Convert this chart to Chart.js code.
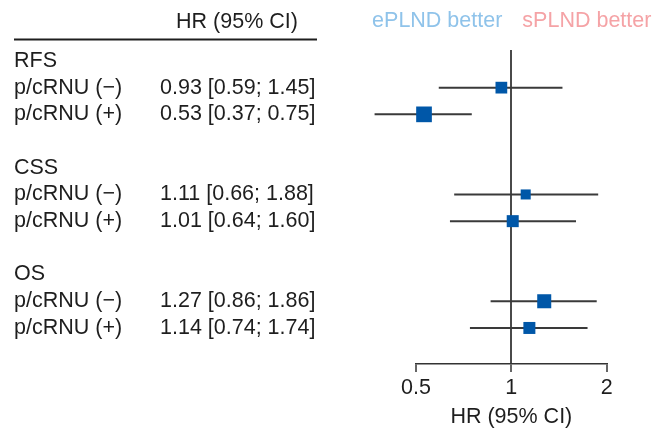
<!DOCTYPE html>
<html>
<head>
<meta charset="utf-8">
<script src="https://cdn.jsdelivr.net/npm/chart.js@4/dist/chart.umd.min.js"></script>
<style>
  body { margin: 0; background: #fff; }
  #wrap { width: 666px; height: 428px; position: relative; }
</style>
</head>
<body>
<div id="wrap"><canvas id="forest"></canvas></div>
<script>
// Forest plot data
const outcomes = ['RFS', 'CSS', 'OS'];
const subgroups = ['p/cRNU (\u2212)', 'p/cRNU (+)'];
const hr = [0.93, 0.53, 1.11, 1.01, 1.27, 1.14];
const lower = [0.59, 0.37, 0.66, 0.64, 0.86, 0.74];
const upper = [1.45, 0.75, 1.88, 1.60, 1.86, 1.74];
const weights = [8.6, 15.4, 6.3, 9.0, 12.3, 9.0];
const xTicks = [0.5, 1, 2];

const textColor = '#1e1e1e';
const fontSize = 21.5;
const fontFamily = "'Liberation Sans', Arial, Helvetica, sans-serif";
Chart.defaults.font.family = fontFamily;

// Build table rows: header, two subgroups, blank spacer between outcomes
const rowLabels = [];
const rowValues = [];
const studyRow = [];
outcomes.forEach((o, oi) => {
    if (oi > 0) { rowLabels.push(''); rowValues.push(''); }
    rowLabels.push(o); rowValues.push('');
    subgroups.forEach((s, si) => {
        const k = oi * subgroups.length + si;
        studyRow[k] = rowLabels.length;
        rowLabels.push(s);
        rowValues.push(`${hr[k].toFixed(2)} [${lower[k].toFixed(2)}; ${upper[k].toFixed(2)}]`);
    });
});

const rowTicks = axis => { axis.ticks = rowLabels.map((_, i) => ({ value: i })); };

const datasets = [{
    label: 'HR',
    data: hr.map((v, k) => ({ x: v, y: studyRow[k] })),
    pointStyle: 'rect',
    pointRadius: weights.map(w => 4 * Math.sqrt(w) / Math.SQRT2),
    pointHoverRadius: weights.map(w => 4 * Math.sqrt(w) / Math.SQRT2),
    pointBackgroundColor: '#0057A8',
    pointBorderWidth: 0,
    order: 0,
    clip: false
}];
hr.forEach((v, k) => {
    datasets.push({
        label: 'CI ' + k,
        data: [{ x: lower[k], y: studyRow[k] }, { x: upper[k], y: studyRow[k] }],
        showLine: true,
        borderColor: '#3a3a3a',
        borderWidth: 2,
        pointRadius: 0,
        order: 1,
        clip: false
    });
});

// Header texts above the table and plot
const headerPlugin = {
    id: 'header',
    afterDraw(chart) {
        const { ctx } = chart;
        const x1 = chart.scales.x.getPixelForValue(1);
        ctx.save();
        ctx.font = `${fontSize}px ${fontFamily}`;
        ctx.textBaseline = 'middle';
        ctx.fillStyle = textColor;
        ctx.textAlign = 'center';
        ctx.fillText('HR (95% CI)', 237, 22);
        ctx.strokeStyle = textColor;
        ctx.lineWidth = 2;
        ctx.beginPath();
        ctx.moveTo(14, 39.5);
        ctx.lineTo(317, 39.5);
        ctx.stroke();
        ctx.textAlign = 'right';
        ctx.fillStyle = '#8FC3EA';
        ctx.fillText('ePLND better', x1 - 9, 21);
        ctx.textAlign = 'left';
        ctx.fillStyle = '#F5A3A6';
        ctx.fillText('sPLND better', x1 + 11, 21);
        ctx.restore();
    }
};

const chart = new Chart(document.getElementById('forest'), {
    type: 'scatter',
    data: { datasets },
    options: {
        responsive: true,
        maintainAspectRatio: false,
        animation: false,
        layout: { padding: { top: 50, left: 14, right: 59.3, bottom: 0 } },
        plugins: { legend: { display: false }, tooltip: { enabled: false } },
        scales: {
            x: {
                type: 'logarithmic',
                min: 0.5,
                max: 2,
                afterBuildTicks: axis => { axis.ticks = xTicks.map(v => ({ value: v })); },
                afterFit: axis => { axis.height = 64; },
                ticks: {
                    autoSkip: false,
                    maxRotation: 0,
                    color: textColor,
                    font: { size: fontSize },
                    padding: 3,
                    callback: v => String(v)
                },
                grid: {
                    color: c => (c.tick && c.tick.value === 1 ? '#4a4a4a' : 'rgba(0,0,0,0)'),
                    lineWidth: 2,
                    tickColor: '#333',
                    tickWidth: 1.5,
                    tickLength: 8
                },
                border: { color: '#333', width: 1.5 },
                title: { display: true, text: 'HR (95% CI)', color: textColor, font: { size: fontSize, lineHeight: 1.0 }, padding: 0 }
            },
            y: {
                type: 'linear',
                position: 'left',
                reverse: true,
                min: -0.41,
                max: 11.35,
                weight: 2,
                afterBuildTicks: rowTicks,
                afterFit: axis => { axis.width = 146; },
                ticks: {
                    autoSkip: false,
                    crossAlign: 'far',
                    padding: 0,
                    color: textColor,
                    font: { size: fontSize },
                    callback: v => rowLabels[v]
                },
                grid: { display: false },
                border: { display: false }
            },
            y2: {
                type: 'linear',
                position: 'left',
                reverse: true,
                min: -0.41,
                max: 11.35,
                weight: 1,
                afterBuildTicks: rowTicks,
                afterFit: axis => { axis.width = 256; },
                ticks: {
                    autoSkip: false,
                    crossAlign: 'far',
                    padding: 0,
                    color: textColor,
                    font: { size: fontSize },
                    callback: v => rowValues[v]
                },
                grid: { display: false },
                border: { display: false }
            }
        }
    },
    plugins: [headerPlugin]
});
</script>
</body>
</html>
